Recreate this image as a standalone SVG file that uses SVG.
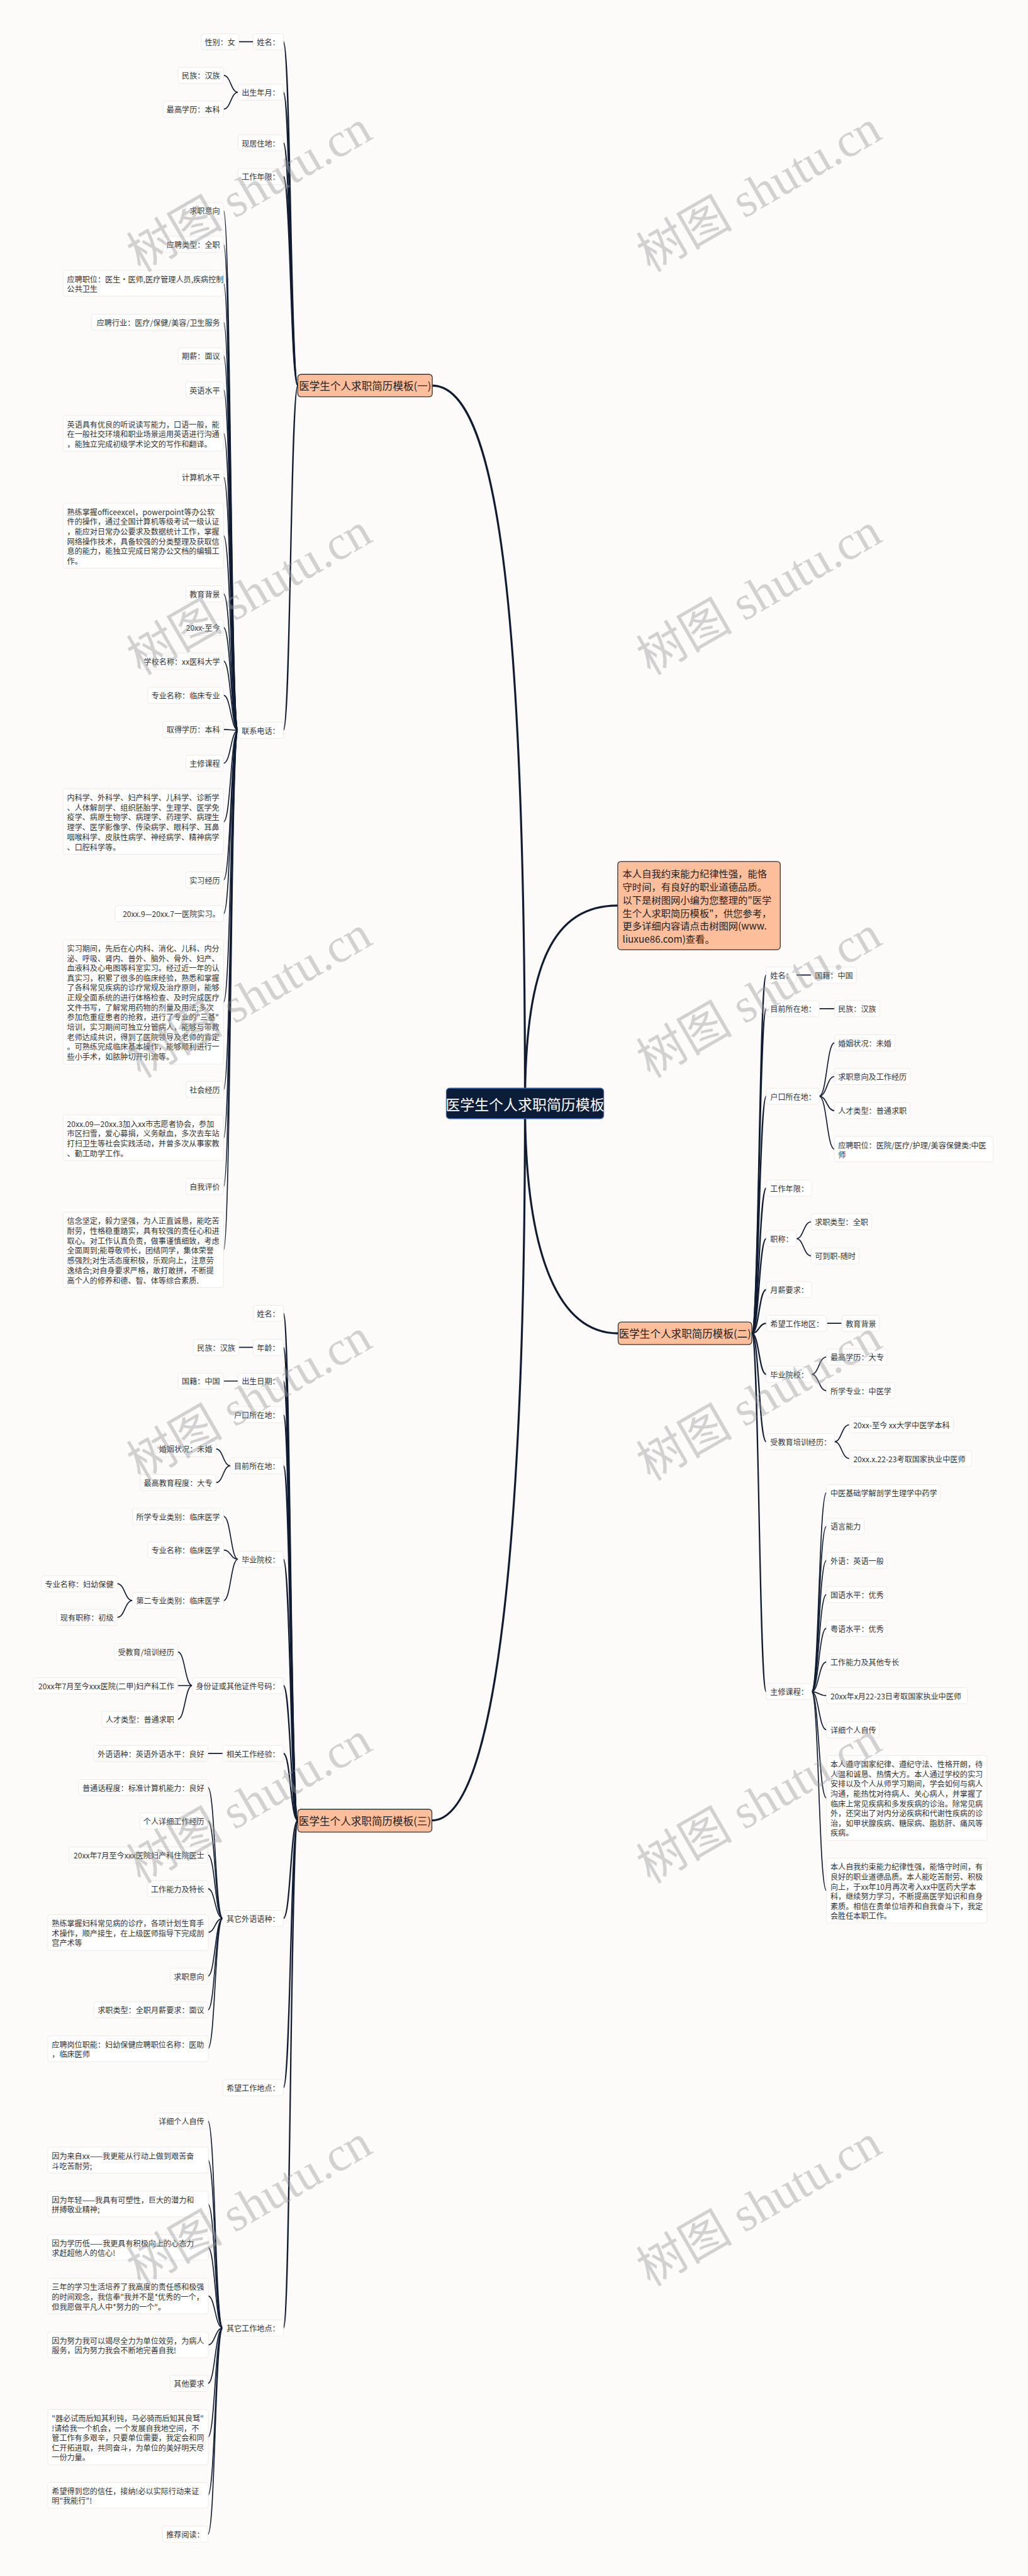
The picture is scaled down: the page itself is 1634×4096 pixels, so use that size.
<svg xmlns="http://www.w3.org/2000/svg" width="1634" height="4096" viewBox="0 0 1634 4096">
<style>
.t{font-family:"Noto Sans CJK SC","Noto Sans",sans-serif;font-size:19px;fill:#333;dominant-baseline:central}
.e{text-anchor:end}
.bx{fill:#fff;stroke:#eee8e5;stroke-width:1.5}
.br{fill:#fdbf9b;stroke:#333;stroke-width:2}
.tb{font-family:"Noto Sans CJK SC","Noto Sans",sans-serif;font-size:26px;fill:#222;text-anchor:middle;dominant-baseline:central}
.td{font-family:"Noto Sans CJK SC","Noto Sans",sans-serif;font-size:24px;fill:#222;dominant-baseline:central}
.tr{font-family:"Noto Sans CJK SC","Noto Sans",sans-serif;font-size:36px;fill:#fff;text-anchor:middle;dominant-baseline:central}
.c1{fill:none;stroke:#0f1c33;stroke-width:5;stroke-linecap:round}
.c2{fill:none;stroke:#0f1c33;stroke-width:3.5;stroke-linecap:round}
.c3{fill:none;stroke:#0f1c33;stroke-width:2.6;stroke-linecap:round}
.wm{font-family:"Liberation Serif","Noto Sans CJK SC",serif;font-size:120px;fill:#999;opacity:.42}
</style>
<rect width="1634" height="4096" fill="#fdfbfa"/>
<g transform="scale(0.638)">
<g id="connectors">
<path class="c1" d="M1308,2750 C1308,1600 1250,961 1077,961"/>
<path class="c1" d="M1308,2750 C1308,2400 1380,2257 1539,2257"/>
<path class="c1" d="M1308,2750 C1308,3100 1380,3323 1540,3323"/>
<path class="c1" d="M1308,2750 C1308,3800 1240,4537 1076,4537"/>
<path class="c2" d="M742,961 C724,961 724,104 706,104"/>
<path class="c2" d="M742,961 C724,961 724,230 706,230"/>
<path class="c2" d="M742,961 C724,961 724,356 706,356"/>
<path class="c2" d="M742,961 C724,961 724,440 706,440"/>
<path class="c2" d="M742,961 C724,961 724,1820 706,1820"/>
<path class="c3" d="M595,104 L631,104"/>
<path class="c3" d="M593,230 C575,230 575,188 557,188"/>
<path class="c3" d="M593,230 C575,230 575,272 557,272"/>
<path class="c3" d="M593,1820 C575,1820 575,525 557,525"/>
<path class="c3" d="M593,1820 C575,1820 575,609 557,609"/>
<path class="c3" d="M593,1820 C575,1820 575,706 557,706"/>
<path class="c3" d="M593,1820 C575,1820 575,803 557,803"/>
<path class="c3" d="M593,1820 C575,1820 575,887 557,887"/>
<path class="c3" d="M593,1820 C575,1820 575,972 557,972"/>
<path class="c3" d="M593,1820 C575,1820 575,1080 557,1080"/>
<path class="c3" d="M593,1820 C575,1820 575,1189 557,1189"/>
<path class="c3" d="M593,1820 C575,1820 575,1335 557,1335"/>
<path class="c3" d="M593,1820 C575,1820 575,1480 557,1480"/>
<path class="c3" d="M593,1820 C575,1820 575,1564 557,1564"/>
<path class="c3" d="M593,1820 C575,1820 575,1648 557,1648"/>
<path class="c3" d="M593,1820 C575,1820 575,1733 557,1733"/>
<path class="c3" d="M593,1820 C575,1820 575,1818 557,1818"/>
<path class="c3" d="M593,1820 C575,1820 575,1902 557,1902"/>
<path class="c3" d="M593,1820 C575,1820 575,2048 557,2048"/>
<path class="c3" d="M593,1820 C575,1820 575,2193 557,2193"/>
<path class="c3" d="M593,1820 C575,1820 575,2277 557,2277"/>
<path class="c3" d="M593,1820 C575,1820 575,2497 557,2497"/>
<path class="c3" d="M593,1820 C575,1820 575,2715 557,2715"/>
<path class="c3" d="M593,1820 C575,1820 575,2836 557,2836"/>
<path class="c3" d="M593,1820 C575,1820 575,2957 557,2957"/>
<path class="c3" d="M593,1820 C575,1820 575,3115 557,3115"/>
<path class="c2" d="M742,4537 C724,4537 724,3273 706,3273"/>
<path class="c2" d="M742,4537 C724,4537 724,3358 706,3358"/>
<path class="c2" d="M742,4537 C724,4537 724,3442 706,3442"/>
<path class="c2" d="M742,4537 C724,4537 724,3526 706,3526"/>
<path class="c2" d="M742,4537 C724,4537 724,3653 706,3653"/>
<path class="c2" d="M742,4537 C724,4537 724,3886 706,3886"/>
<path class="c2" d="M742,4537 C724,4537 724,4201 706,4201"/>
<path class="c2" d="M742,4537 C724,4537 724,4370 706,4370"/>
<path class="c2" d="M742,4537 C724,4537 724,4781 706,4781"/>
<path class="c2" d="M742,4537 C724,4537 724,5203 706,5203"/>
<path class="c2" d="M742,4537 C724,4537 724,5802 706,5802"/>
<path class="c3" d="M595,3358 L631,3358"/>
<path class="c3" d="M557,3442 L593,3442"/>
<path class="c3" d="M574,3653 C556,3653 556,3611 538,3611"/>
<path class="c3" d="M574,3653 C556,3653 556,3695 538,3695"/>
<path class="c3" d="M593,3886 C575,3886 575,3779 557,3779"/>
<path class="c3" d="M593,3886 C575,3886 575,3863 557,3863"/>
<path class="c3" d="M593,3886 C575,3886 575,3989 557,3989"/>
<path class="c3" d="M330,3989 C311,3989 311,3947 292,3947"/>
<path class="c3" d="M330,3989 C311,3989 311,4031 292,4031"/>
<path class="c3" d="M479,4201 C461,4201 461,4117 443,4117"/>
<path class="c3" d="M479,4201 L443,4201"/>
<path class="c3" d="M479,4201 C461,4201 461,4285 443,4285"/>
<path class="c3" d="M518,4370 L555,4370"/>
<path class="c3" d="M555,4781 C536,4781 536,4455 518,4455"/>
<path class="c3" d="M555,4781 C536,4781 536,4538 518,4538"/>
<path class="c3" d="M555,4781 C536,4781 536,4623 518,4623"/>
<path class="c3" d="M555,4781 C536,4781 536,4707 518,4707"/>
<path class="c3" d="M555,4781 C536,4781 536,4816 518,4816"/>
<path class="c3" d="M555,4781 C536,4781 536,4925 518,4925"/>
<path class="c3" d="M555,4781 C536,4781 536,5009 518,5009"/>
<path class="c3" d="M555,4781 C536,4781 536,5106 518,5106"/>
<path class="c3" d="M555,5802 C536,5802 536,5286 518,5286"/>
<path class="c3" d="M555,5802 C536,5802 536,5383 518,5383"/>
<path class="c3" d="M555,5802 C536,5802 536,5493 518,5493"/>
<path class="c3" d="M555,5802 C536,5802 536,5601 518,5601"/>
<path class="c3" d="M555,5802 C536,5802 536,5722 518,5722"/>
<path class="c3" d="M555,5802 C536,5802 536,5844 518,5844"/>
<path class="c3" d="M555,5802 C536,5802 536,5940 518,5940"/>
<path class="c3" d="M555,5802 C536,5802 536,6074 518,6074"/>
<path class="c3" d="M555,5802 C536,5802 536,6219 518,6219"/>
<path class="c3" d="M555,5802 C536,5802 536,6316 518,6316"/>
<path class="c2" d="M1873,3323 C1891,3323 1891,2430 1909,2430"/>
<path class="c2" d="M1873,3323 C1891,3323 1891,2514 1909,2514"/>
<path class="c2" d="M1873,3323 C1891,3323 1891,2732 1909,2732"/>
<path class="c2" d="M1873,3323 C1891,3323 1891,2961 1909,2961"/>
<path class="c2" d="M1873,3323 C1891,3323 1891,3087 1909,3087"/>
<path class="c2" d="M1873,3323 C1891,3323 1891,3214 1909,3214"/>
<path class="c2" d="M1873,3323 C1891,3323 1891,3298 1909,3298"/>
<path class="c2" d="M1873,3323 C1891,3323 1891,3425 1909,3425"/>
<path class="c2" d="M1873,3323 C1891,3323 1891,3593 1909,3593"/>
<path class="c2" d="M1873,3323 C1891,3323 1891,4216 1909,4216"/>
<path class="c3" d="M1984,2430 L2021,2430"/>
<path class="c3" d="M2041,2514 L2079,2514"/>
<path class="c3" d="M2041,2732 C2060,2732 2060,2599 2079,2599"/>
<path class="c3" d="M2041,2732 C2060,2732 2060,2683 2079,2683"/>
<path class="c3" d="M2041,2732 C2060,2732 2060,2768 2079,2768"/>
<path class="c3" d="M2041,2732 C2060,2732 2060,2864 2079,2864"/>
<path class="c3" d="M1984,3087 C2002,3087 2002,3045 2021,3045"/>
<path class="c3" d="M1984,3087 C2002,3087 2002,3130 2021,3130"/>
<path class="c3" d="M2060,3298 L2097,3298"/>
<path class="c3" d="M2022,3425 C2040,3425 2040,3382 2059,3382"/>
<path class="c3" d="M2022,3425 C2040,3425 2040,3466 2059,3466"/>
<path class="c3" d="M2079,3593 C2097,3593 2097,3551 2116,3551"/>
<path class="c3" d="M2079,3593 C2097,3593 2097,3635 2116,3635"/>
<path class="c3" d="M2022,4216 C2040,4216 2040,3720 2059,3720"/>
<path class="c3" d="M2022,4216 C2040,4216 2040,3804 2059,3804"/>
<path class="c3" d="M2022,4216 C2040,4216 2040,3889 2059,3889"/>
<path class="c3" d="M2022,4216 C2040,4216 2040,3974 2059,3974"/>
<path class="c3" d="M2022,4216 C2040,4216 2040,4058 2059,4058"/>
<path class="c3" d="M2022,4216 C2040,4216 2040,4142 2059,4142"/>
<path class="c3" d="M2022,4216 C2040,4216 2040,4226 2059,4226"/>
<path class="c3" d="M2022,4216 C2040,4216 2040,4311 2059,4311"/>
<path class="c3" d="M2022,4216 C2040,4216 2040,4481 2059,4481"/>
<path class="c3" d="M2022,4216 C2040,4216 2040,4712 2059,4712"/>
</g>

<g id="root"><rect x="1112" y="2712" width="392" height="76" rx="8" fill="#0c1d3a" stroke="#3a66b0" stroke-width="2"/><text class="tr" x="1308" y="2750">医学生个人求职简历模板</text></g>

<g id="desc"><rect class="br" x="1539" y="2147" width="405" height="220" rx="8"/>
<text class="td"><tspan x="1551" y="2175">本人自我约束能力纪律性强，能恪</tspan><tspan x="1551" y="2208">守时间，有良好的职业道德品质。</tspan><tspan x="1551" y="2241">以下是树图网小编为您整理的"医学</tspan><tspan x="1551" y="2274">生个人求职简历模板"，供您参考，</tspan><tspan x="1551" y="2306">更多详细内容请点击树图网(www.</tspan><tspan x="1551" y="2339">liuxue86.com)查看。</tspan></text></g>

<g id="b1"><rect class="br" x="742" y="933" width="335" height="56" rx="8"/><text class="tb" x="909.5" y="961">医学生个人求职简历模板(一)</text></g>
<g id="n1a"><rect class="bx" x="631" y="84" width="75" height="40" rx="6"/><text class="t e" x="697" y="104">姓名：</text></g>
<g id="n1a1"><rect class="bx" x="501" y="84" width="94" height="40" rx="6"/><text class="t e" x="586" y="104">性别：女</text></g>
<g id="n1b"><rect class="bx" x="593" y="210" width="113" height="40" rx="6"/><text class="t e" x="697" y="230">出生年月：</text></g>
<g id="n1b1"><rect class="bx" x="444" y="168" width="113" height="40" rx="6"/><text class="t e" x="548" y="188">民族：汉族</text></g>
<g id="n1b2"><rect class="bx" x="406" y="252" width="151" height="40" rx="6"/><text class="t e" x="548" y="272">最高学历：本科</text></g>
<g id="n1c"><rect class="bx" x="593" y="336" width="113" height="40" rx="6"/><text class="t e" x="697" y="356">现居住地：</text></g>
<g id="n1d"><rect class="bx" x="593" y="420" width="113" height="40" rx="6"/><text class="t e" x="697" y="440">工作年限：</text></g>
<g id="n1e"><rect class="bx" x="593" y="1800" width="113" height="40" rx="6"/><text class="t e" x="697" y="1820">联系电话：</text></g>
<g id="n1e1"><rect class="bx" x="463" y="505" width="94" height="40" rx="6"/><text class="t e" x="548" y="525">求职意向</text></g>
<g id="n1e2"><rect class="bx" x="406" y="589" width="151" height="40" rx="6"/><text class="t e" x="548" y="609">应聘类型：全职</text></g>
<g id="n1e3"><rect class="bx" x="157" y="674" width="400" height="64" rx="6"/><text class="t"><tspan x="167" y="694">应聘职位：医生·医师,医疗管理人员,疾病控制·</tspan><tspan x="167" y="718">公共卫生</tspan></text></g>
<g id="n1e4"><rect class="bx" x="228" y="783" width="329" height="40" rx="6"/><text class="t e" x="548" y="803">应聘行业：医疗/保健/美容/卫生服务</text></g>
<g id="n1e5"><rect class="bx" x="444" y="867" width="113" height="40" rx="6"/><text class="t e" x="548" y="887">期薪：面议</text></g>
<g id="n1e6"><rect class="bx" x="463" y="952" width="94" height="40" rx="6"/><text class="t e" x="548" y="972">英语水平</text></g>
<g id="n1e7"><rect class="bx" x="157" y="1036" width="400" height="89" rx="6"/><text class="t"><tspan x="167" y="1056">英语具有优良的听说读写能力，口语一般，能</tspan><tspan x="167" y="1080.5">在一般社交环境和职业场景运用英语进行沟通</tspan><tspan x="167" y="1105">，能独立完成初级学术论文的写作和翻译。</tspan></text></g>
<g id="n1e8"><rect class="bx" x="444" y="1169" width="113" height="40" rx="6"/><text class="t e" x="548" y="1189">计算机水平</text></g>
<g id="n1e9"><rect class="bx" x="157" y="1254" width="400" height="162" rx="6"/><text class="t"><tspan x="167" y="1274">熟练掌握officeexcel，powerpoint等办公软</tspan><tspan x="167" y="1298.5">件的操作，通过全国计算机等级考试一级认证</tspan><tspan x="167" y="1323">，能应对日常办公要求及数据统计工作，掌握</tspan><tspan x="167" y="1347.5">网络操作技术，具备较强的分类整理及获取信</tspan><tspan x="167" y="1372">息的能力，能独立完成日常办公文档的编辑工</tspan><tspan x="167" y="1396.5">作。</tspan></text></g>
<g id="n1e10"><rect class="bx" x="463" y="1460" width="94" height="40" rx="6"/><text class="t e" x="548" y="1480">教育背景</text></g>
<g id="n1e11"><rect class="bx" x="452" y="1544" width="105" height="40" rx="6"/><text class="t e" x="548" y="1564">20xx-至今</text></g>
<g id="n1e12"><rect class="bx" x="349" y="1628" width="208" height="40" rx="6"/><text class="t e" x="548" y="1648">学校名称：xx医科大学</text></g>
<g id="n1e13"><rect class="bx" x="368" y="1713" width="189" height="40" rx="6"/><text class="t e" x="548" y="1733">专业名称：临床专业</text></g>
<g id="n1e14"><rect class="bx" x="406" y="1798" width="151" height="40" rx="6"/><text class="t e" x="548" y="1818">取得学历：本科</text></g>
<g id="n1e15"><rect class="bx" x="463" y="1882" width="94" height="40" rx="6"/><text class="t e" x="548" y="1902">主修课程</text></g>
<g id="n1e16"><rect class="bx" x="157" y="1966" width="400" height="163" rx="6"/><text class="t"><tspan x="167" y="1986">内科学、外科学、妇产科学、儿科学、诊断学</tspan><tspan x="167" y="2010.6">、人体解剖学、组织胚胎学、生理学、医学免</tspan><tspan x="167" y="2035.2">疫学、病原生物学、病理学、药理学、病理生</tspan><tspan x="167" y="2059.8">理学、医学影像学、传染病学、眼科学、耳鼻</tspan><tspan x="167" y="2084.4">咽喉科学、皮肤性病学、神经病学、精神病学</tspan><tspan x="167" y="2109">、口腔科学等。</tspan></text></g>
<g id="n1e17"><rect class="bx" x="463" y="2173" width="94" height="40" rx="6"/><text class="t e" x="548" y="2193">实习经历</text></g>
<g id="n1e18"><rect class="bx" x="287" y="2257" width="270" height="40" rx="6"/><text class="t e" x="548" y="2277">20xx.9—20xx.7一医院实习。</text></g>
<g id="n1e19"><rect class="bx" x="157" y="2342" width="400" height="310" rx="6"/><text class="t"><tspan x="167" y="2362">实习期间，先后在心内科、消化、儿科、内分</tspan><tspan x="167" y="2386.5">泌、呼吸、肾内、普外、脑外、骨外、妇产、</tspan><tspan x="167" y="2411">血液科及心电图等科室实习。经过近一年的认</tspan><tspan x="167" y="2435.5">真实习，积累了很多的临床经验，熟悉和掌握</tspan><tspan x="167" y="2460">了各科常见疾病的诊疗常规及治疗原则，能够</tspan><tspan x="167" y="2484.5">正规全面系统的进行体格检查、及时完成医疗</tspan><tspan x="167" y="2509">文件书写，了解常用药物的剂量及用法;多次</tspan><tspan x="167" y="2533.5">参加危重症患者的抢救，进行了专业的"三基"</tspan><tspan x="167" y="2558">培训，实习期间可独立分管病人，能够与带教</tspan><tspan x="167" y="2582.5">老师达成共识，得到了医院领导及老师的肯定</tspan><tspan x="167" y="2607">。可熟练完成临床基本操作，能够顺利进行一</tspan><tspan x="167" y="2631.5">些小手术，如脓肿切开引流等。</tspan></text></g>
<g id="n1e20"><rect class="bx" x="463" y="2695" width="94" height="40" rx="6"/><text class="t e" x="548" y="2715">社会经历</text></g>
<g id="n1e21"><rect class="bx" x="157" y="2779" width="400" height="114" rx="6"/><text class="t"><tspan x="167" y="2799">20xx.09—20xx.3加入xx市志愿者协会，参加</tspan><tspan x="167" y="2823.5">市区扫雪，爱心募捐，义务献血，多次去车站</tspan><tspan x="167" y="2848">打扫卫生等社会实践活动，并曾多次从事家教</tspan><tspan x="167" y="2872.5">、勤工助学工作。</tspan></text></g>
<g id="n1e22"><rect class="bx" x="463" y="2937" width="94" height="40" rx="6"/><text class="t e" x="548" y="2957">自我评价</text></g>
<g id="n1e23"><rect class="bx" x="157" y="3021" width="400" height="188" rx="6"/><text class="t"><tspan x="167" y="3041">信念坚定，毅力坚强，为人正直诚恳，能吃苦</tspan><tspan x="167" y="3065.7">耐劳，性格稳重踏实，具有较强的责任心和进</tspan><tspan x="167" y="3090.3">取心。对工作认真负责，做事谨慎细致，考虑</tspan><tspan x="167" y="3115">全面周到;能尊敬师长，团结同学，集体荣誉</tspan><tspan x="167" y="3139.7">感强烈;对生活态度积极，乐观向上，注意劳</tspan><tspan x="167" y="3164.3">逸结合;对自身要求严格，敢打敢拼，不断提</tspan><tspan x="167" y="3189">高个人的修养和德、智、体等综合素质.</tspan></text></g>

<g id="b3"><rect class="br" x="742" y="4509" width="334" height="57" rx="8"/><text class="tb" x="909" y="4537.5">医学生个人求职简历模板(三)</text></g>
<g id="n3a"><rect class="bx" x="631" y="3253" width="75" height="40" rx="6"/><text class="t e" x="697" y="3273">姓名：</text></g>
<g id="n3b"><rect class="bx" x="631" y="3338" width="75" height="40" rx="6"/><text class="t e" x="697" y="3358">年龄：</text></g>
<g id="n3b1"><rect class="bx" x="482" y="3338" width="113" height="40" rx="6"/><text class="t e" x="586" y="3358">民族：汉族</text></g>
<g id="n3c"><rect class="bx" x="593" y="3422" width="113" height="40" rx="6"/><text class="t e" x="697" y="3442">出生日期：</text></g>
<g id="n3c1"><rect class="bx" x="444" y="3422" width="113" height="40" rx="6"/><text class="t e" x="548" y="3442">国籍：中国</text></g>
<g id="n3d"><rect class="bx" x="574" y="3506" width="132" height="40" rx="6"/><text class="t e" x="697" y="3526">户口所在地：</text></g>
<g id="n3e"><rect class="bx" x="574" y="3633" width="132" height="40" rx="6"/><text class="t e" x="697" y="3653">目前所在地：</text></g>
<g id="n3e1"><rect class="bx" x="387" y="3591" width="151" height="40" rx="6"/><text class="t e" x="529" y="3611">婚姻状况：未婚</text></g>
<g id="n3e2"><rect class="bx" x="349" y="3675" width="189" height="40" rx="6"/><text class="t e" x="529" y="3695">最高教育程度：大专</text></g>
<g id="n3f"><rect class="bx" x="593" y="3866" width="113" height="40" rx="6"/><text class="t e" x="697" y="3886">毕业院校：</text></g>
<g id="n3f1"><rect class="bx" x="330" y="3759" width="227" height="40" rx="6"/><text class="t e" x="548" y="3779">所学专业类别：临床医学</text></g>
<g id="n3f2"><rect class="bx" x="368" y="3843" width="189" height="40" rx="6"/><text class="t e" x="548" y="3863">专业名称：临床医学</text></g>
<g id="n3f3"><rect class="bx" x="330" y="3969" width="227" height="40" rx="6"/><text class="t e" x="548" y="3989">第二专业类别：临床医学</text></g>
<g id="n3f3a"><rect class="bx" x="103" y="3927" width="189" height="40" rx="6"/><text class="t e" x="283" y="3947">专业名称：妇幼保健</text></g>
<g id="n3f3b"><rect class="bx" x="141" y="4011" width="151" height="40" rx="6"/><text class="t e" x="283" y="4031">现有职称：初级</text></g>
<g id="n3g"><rect class="bx" x="479" y="4181" width="227" height="40" rx="6"/><text class="t e" x="697" y="4201">身份证或其他证件号码：</text></g>
<g id="n3g1"><rect class="bx" x="285" y="4097" width="158" height="40" rx="6"/><text class="t e" x="434" y="4117">受教育/培训经历</text></g>
<g id="n3g2"><rect class="bx" x="83" y="4181" width="360" height="40" rx="6"/><text class="t e" x="434" y="4201">20xx年7月至今xxx医院(二甲)妇产科工作</text></g>
<g id="n3g3"><rect class="bx" x="254" y="4265" width="189" height="40" rx="6"/><text class="t e" x="434" y="4285">人才类型：普通求职</text></g>
<g id="n3h"><rect class="bx" x="555" y="4350" width="151" height="40" rx="6"/><text class="t e" x="697" y="4370">相关工作经验：</text></g>
<g id="n3h1"><rect class="bx" x="234" y="4350" width="284" height="40" rx="6"/><text class="t e" x="509" y="4370">外语语种：英语外语水平：良好</text></g>
<g id="n3i"><rect class="bx" x="555" y="4761" width="151" height="40" rx="6"/><text class="t e" x="697" y="4781">其它外语语种：</text></g>
<g id="n3i1"><rect class="bx" x="196" y="4435" width="322" height="40" rx="6"/><text class="t e" x="509" y="4455">普通话程度：标准计算机能力：良好</text></g>
<g id="n3i2"><rect class="bx" x="348" y="4518" width="170" height="40" rx="6"/><text class="t e" x="509" y="4538">个人详细工作经历</text></g>
<g id="n3i3"><rect class="bx" x="172" y="4603" width="346" height="40" rx="6"/><text class="t e" x="509" y="4623">20xx年7月至今xxx医院妇产科住院医士</text></g>
<g id="n3i4"><rect class="bx" x="367" y="4687" width="151" height="40" rx="6"/><text class="t e" x="509" y="4707">工作能力及特长</text></g>
<g id="n3i5"><rect class="bx" x="119" y="4772" width="400" height="89" rx="6"/><text class="t"><tspan x="129" y="4792">熟练掌握妇科常见病的诊疗，各项计划生育手</tspan><tspan x="129" y="4816">术操作，顺产接生，在上级医师指导下完成剖</tspan><tspan x="129" y="4840">宫产术等</tspan></text></g>
<g id="n3i6"><rect class="bx" x="424" y="4905" width="94" height="40" rx="6"/><text class="t e" x="509" y="4925">求职意向</text></g>
<g id="n3i7"><rect class="bx" x="234" y="4989" width="284" height="40" rx="6"/><text class="t e" x="509" y="5009">求职类型：全职月薪要求：面议</text></g>
<g id="n3i8"><rect class="bx" x="119" y="5074" width="400" height="64" rx="6"/><text class="t"><tspan x="129" y="5094">应聘岗位职能：妇幼保健应聘职位名称：医助</tspan><tspan x="129" y="5118">，临床医师</tspan></text></g>
<g id="n3j"><rect class="bx" x="555" y="5183" width="151" height="40" rx="6"/><text class="t e" x="697" y="5203">希望工作地点：</text></g>
<g id="n3k"><rect class="bx" x="555" y="5782" width="151" height="40" rx="6"/><text class="t e" x="697" y="5802">其它工作地点：</text></g>
<g id="n3k1"><rect class="bx" x="386" y="5266" width="132" height="40" rx="6"/><text class="t e" x="509" y="5286">详细个人自传</text></g>
<g id="n3k2"><rect class="bx" x="119" y="5351" width="400" height="65" rx="6"/><text class="t"><tspan x="129" y="5371">因为来自xx——我更能从行动上做到艰苦奋</tspan><tspan x="129" y="5396">斗吃苦耐劳;</tspan></text></g>
<g id="n3k3"><rect class="bx" x="119" y="5461" width="400" height="64" rx="6"/><text class="t"><tspan x="129" y="5481">因为年轻——我具有可塑性，巨大的潜力和</tspan><tspan x="129" y="5505">拼搏敬业精神;</tspan></text></g>
<g id="n3k4"><rect class="bx" x="119" y="5569" width="400" height="64" rx="6"/><text class="t"><tspan x="129" y="5589">因为学历低——我更具有积极向上的心态力</tspan><tspan x="129" y="5613">求赶超他人的信心!</tspan></text></g>
<g id="n3k5"><rect class="bx" x="119" y="5678" width="400" height="89" rx="6"/><text class="t"><tspan x="129" y="5698">三年的学习生活培养了我高度的责任感和极强</tspan><tspan x="129" y="5722">的时间观念，我信奉"我并不是*优秀的一个，</tspan><tspan x="129" y="5747">但我愿做平凡人中*努力的一个"。</tspan></text></g>
<g id="n3k6"><rect class="bx" x="119" y="5812" width="400" height="64" rx="6"/><text class="t"><tspan x="129" y="5832">因为努力我可以竭尽全力为单位效劳，为病人</tspan><tspan x="129" y="5856">服务，因为努力我会不断地完善自我!</tspan></text></g>
<g id="n3k7"><rect class="bx" x="424" y="5920" width="94" height="40" rx="6"/><text class="t e" x="509" y="5940">其他要求</text></g>
<g id="n3k8"><rect class="bx" x="119" y="6005" width="400" height="138" rx="6"/><text class="t"><tspan x="129" y="6025">"器必试而后知其利钝，马必骑而后知其良驽"</tspan><tspan x="129" y="6049.5">!请给我一个机会，一个发展自我地空间，不</tspan><tspan x="129" y="6074">管工作有多艰辛，只要单位需要，我定会和同</tspan><tspan x="129" y="6098.5">仁开拓进取，共同奋斗，为单位的美好明天尽</tspan><tspan x="129" y="6123">一份力量。</tspan></text></g>
<g id="n3k9"><rect class="bx" x="119" y="6187" width="400" height="64" rx="6"/><text class="t"><tspan x="129" y="6207">希望得到您的信任，接纳!必以实际行动来证</tspan><tspan x="129" y="6231">明"我能行"!</tspan></text></g>
<g id="n3k10"><rect class="bx" x="405" y="6296" width="113" height="40" rx="6"/><text class="t e" x="509" y="6316">推荐阅读：</text></g>

<g id="b2"><rect class="br" x="1540" y="3295" width="333" height="56" rx="8"/><text class="tb" x="1706.5" y="3323">医学生个人求职简历模板(二)</text></g>
<g id="n2a"><rect class="bx" x="1909" y="2410" width="75" height="40" rx="6"/><text class="t" x="1919" y="2430">姓名：</text></g>
<g id="n2a1"><rect class="bx" x="2021" y="2410" width="113" height="40" rx="6"/><text class="t" x="2030" y="2430">国籍：中国</text></g>
<g id="n2b"><rect class="bx" x="1909" y="2494" width="132" height="40" rx="6"/><text class="t" x="1919" y="2514">目前所在地：</text></g>
<g id="n2b1"><rect class="bx" x="2079" y="2494" width="113" height="40" rx="6"/><text class="t" x="2088" y="2514">民族：汉族</text></g>
<g id="n2c"><rect class="bx" x="1909" y="2712" width="132" height="40" rx="6"/><text class="t" x="1919" y="2732">户口所在地：</text></g>
<g id="n2c1"><rect class="bx" x="2079" y="2579" width="151" height="40" rx="6"/><text class="t" x="2088" y="2599">婚姻状况：未婚</text></g>
<g id="n2c2"><rect class="bx" x="2079" y="2663" width="189" height="40" rx="6"/><text class="t" x="2088" y="2683">求职意向及工作经历</text></g>
<g id="n2c3"><rect class="bx" x="2079" y="2748" width="189" height="40" rx="6"/><text class="t" x="2088" y="2768">人才类型：普通求职</text></g>
<g id="n2c4"><rect class="bx" x="2079" y="2832" width="395" height="64" rx="6"/><text class="t"><tspan x="2088" y="2852">应聘职位：医院/医疗/护理/美容保健类:中医</tspan><tspan x="2088" y="2876">师</tspan></text></g>
<g id="n2d"><rect class="bx" x="1909" y="2941" width="113" height="40" rx="6"/><text class="t" x="1919" y="2961">工作年限：</text></g>
<g id="n2e"><rect class="bx" x="1909" y="3067" width="75" height="40" rx="6"/><text class="t" x="1919" y="3087">职称：</text></g>
<g id="n2e1"><rect class="bx" x="2021" y="3025" width="151" height="40" rx="6"/><text class="t" x="2030" y="3045">求职类型：全职</text></g>
<g id="n2e2"><rect class="bx" x="2021" y="3110" width="119" height="40" rx="6"/><text class="t" x="2030" y="3130">可到职-随时</text></g>
<g id="n2f"><rect class="bx" x="1909" y="3194" width="113" height="40" rx="6"/><text class="t" x="1919" y="3214">月薪要求：</text></g>
<g id="n2g"><rect class="bx" x="1909" y="3278" width="151" height="40" rx="6"/><text class="t" x="1919" y="3298">希望工作地区：</text></g>
<g id="n2g1"><rect class="bx" x="2097" y="3278" width="94" height="40" rx="6"/><text class="t" x="2107" y="3298">教育背景</text></g>
<g id="n2h"><rect class="bx" x="1909" y="3405" width="113" height="40" rx="6"/><text class="t" x="1919" y="3425">毕业院校：</text></g>
<g id="n2h1"><rect class="bx" x="2059" y="3362" width="151" height="40" rx="6"/><text class="t" x="2069" y="3382">最高学历：大专</text></g>
<g id="n2h2"><rect class="bx" x="2059" y="3446" width="170" height="40" rx="6"/><text class="t" x="2069" y="3466">所学专业：中医学</text></g>
<g id="n2i"><rect class="bx" x="1909" y="3573" width="170" height="40" rx="6"/><text class="t" x="1919" y="3593">受教育培训经历：</text></g>
<g id="n2i1"><rect class="bx" x="2116" y="3531" width="259" height="40" rx="6"/><text class="t" x="2126" y="3551">20xx-至今 xx大学中医学本科</text></g>
<g id="n2i2"><rect class="bx" x="2116" y="3615" width="305" height="40" rx="6"/><text class="t" x="2126" y="3635">20xx.x.22-23考取国家执业中医师</text></g>
<g id="n2j"><rect class="bx" x="1909" y="4196" width="113" height="40" rx="6"/><text class="t" x="1919" y="4216">主修课程：</text></g>
<g id="n2j1"><rect class="bx" x="2059" y="3700" width="284" height="40" rx="6"/><text class="t" x="2069" y="3720">中医基础学解剖学生理学中药学</text></g>
<g id="n2j2"><rect class="bx" x="2059" y="3784" width="94" height="40" rx="6"/><text class="t" x="2069" y="3804">语言能力</text></g>
<g id="n2j3"><rect class="bx" x="2059" y="3869" width="151" height="40" rx="6"/><text class="t" x="2069" y="3889">外语：英语一般</text></g>
<g id="n2j4"><rect class="bx" x="2059" y="3954" width="151" height="40" rx="6"/><text class="t" x="2069" y="3974">国语水平：优秀</text></g>
<g id="n2j5"><rect class="bx" x="2059" y="4038" width="151" height="40" rx="6"/><text class="t" x="2069" y="4058">粤语水平：优秀</text></g>
<g id="n2j6"><rect class="bx" x="2059" y="4122" width="189" height="40" rx="6"/><text class="t" x="2069" y="4142">工作能力及其他专长</text></g>
<g id="n2j7"><rect class="bx" x="2059" y="4206" width="351" height="40" rx="6"/><text class="t" x="2069" y="4226">20xx年x月22-23日考取国家执业中医师</text></g>
<g id="n2j8"><rect class="bx" x="2059" y="4291" width="132" height="40" rx="6"/><text class="t" x="2069" y="4311">详细个人自传</text></g>
<g id="n2j9"><rect class="bx" x="2059" y="4375" width="400" height="212" rx="6"/><text class="t"><tspan x="2069" y="4395">本人遵守国家纪律、遵纪守法、性格开朗，待</tspan><tspan x="2069" y="4419.5">人温和诚恳、热情大方。本人通过学校的实习</tspan><tspan x="2069" y="4444">安排以及个人从师学习期间，学会如何与病人</tspan><tspan x="2069" y="4468.5">沟通，能热忱对待病人、关心病人，并掌握了</tspan><tspan x="2069" y="4493">临床上常见疾病和多发疾病的诊治。除常见病</tspan><tspan x="2069" y="4517.5">外，还突出了对内分泌疾病和代谢性疾病的诊</tspan><tspan x="2069" y="4542">治，如甲状腺疾病、糖尿病、脂肪肝、痛风等</tspan><tspan x="2069" y="4566.5">疾病。</tspan></text></g>
<g id="n2j10"><rect class="bx" x="2059" y="4631" width="400" height="162" rx="6"/><text class="t"><tspan x="2069" y="4651">本人自我约束能力纪律性强，能恪守时间，有</tspan><tspan x="2069" y="4675.5">良好的职业道德品质。本人能吃苦耐劳、积极</tspan><tspan x="2069" y="4700">向上，于xx年10月再次考入xx中医药大学本</tspan><tspan x="2069" y="4724.5">科，继续努力学习，不断提高医学知识和自身</tspan><tspan x="2069" y="4749">素质。相信在贵单位培养和自我奋斗下，我定</tspan><tspan x="2069" y="4773.5">会胜任本职工作。</tspan></text></g>

<g id="watermarks">
<text class="wm" transform="translate(350,680) rotate(-30)">树图 shutu.cn</text>
<text class="wm" transform="translate(1620,680) rotate(-30)">树图 shutu.cn</text>
<text class="wm" transform="translate(350,1684) rotate(-30)">树图 shutu.cn</text>
<text class="wm" transform="translate(1620,1684) rotate(-30)">树图 shutu.cn</text>
<text class="wm" transform="translate(350,2688) rotate(-30)">树图 shutu.cn</text>
<text class="wm" transform="translate(1620,2688) rotate(-30)">树图 shutu.cn</text>
<text class="wm" transform="translate(350,3692) rotate(-30)">树图 shutu.cn</text>
<text class="wm" transform="translate(1620,3692) rotate(-30)">树图 shutu.cn</text>
<text class="wm" transform="translate(350,4696) rotate(-30)">树图 shutu.cn</text>
<text class="wm" transform="translate(1620,4696) rotate(-30)">树图 shutu.cn</text>
<text class="wm" transform="translate(350,5700) rotate(-30)">树图 shutu.cn</text>
<text class="wm" transform="translate(1620,5700) rotate(-30)">树图 shutu.cn</text>
</g>
</g>
</svg>
